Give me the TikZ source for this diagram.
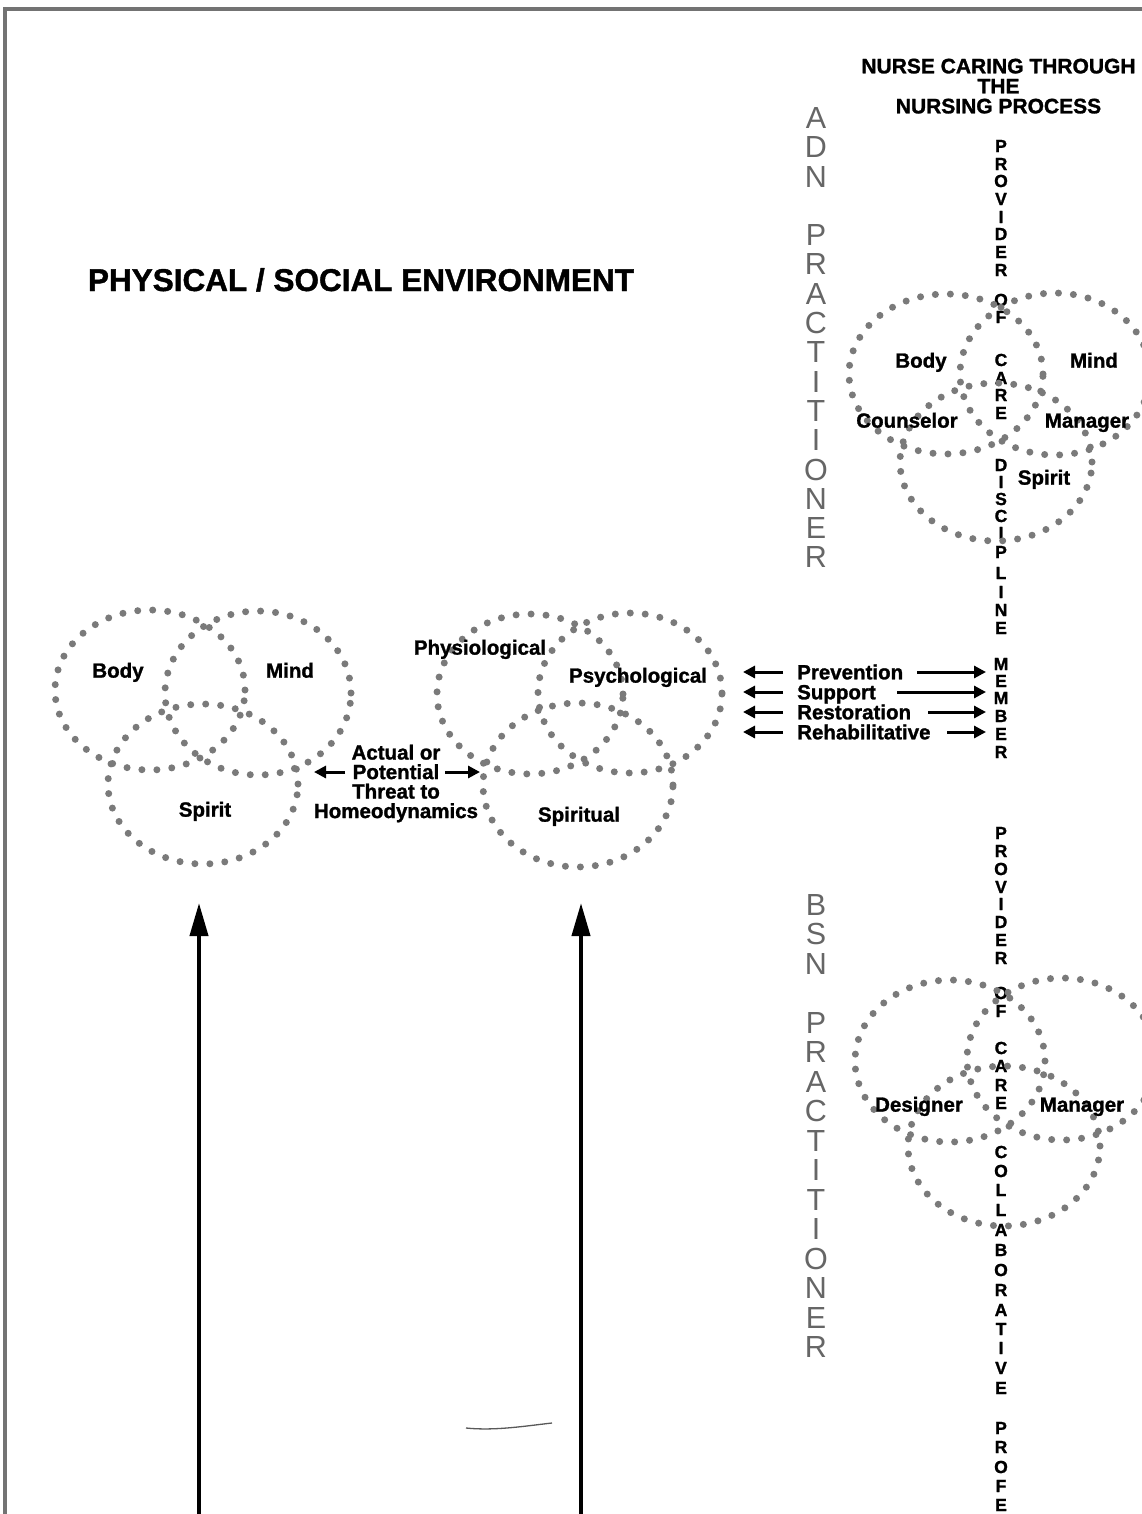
\documentclass[tikz,border=0pt]{standalone}
\usepackage{fontspec}
\setmainfont{Liberation Sans}[BoldFeatures={FakeBold=1.3}]
\usetikzlibrary{arrows.meta}
\begin{document}
\begin{tikzpicture}[x=1pt,y=-1pt,
  dotring/.style={draw=black!52, line width=7pt, line cap=round, dash pattern=on 0pt off 15pt},
  lbl/.style={font=\bfseries\fontsize{20.5}{20}\selectfont, inner sep=0pt, anchor=mid, yshift=-2pt},
  rowlbl/.style={font=\bfseries\fontsize{20.5}{20}\selectfont, inner sep=0pt, anchor=base west},
  bigletter/.style={font=\fontsize{30.5}{30}\selectfont, text=black!60, inner sep=0pt, anchor=center},
  colletter/.style={font=\bfseries\fontsize{17.5}{17}\selectfont, inner sep=0pt, anchor=center},
  smallarrow/.style={line width=3pt, -{Triangle[length=12pt,width=12pt]}},
  bigarrow/.style={line width=4pt, -{Triangle[length=33pt,width=18pt]}}
]
\useasboundingbox (0,0) rectangle (1142,1514);
\fill[white] (0,0) rectangle (1142,1514);
% border
\draw[black!55, line width=4pt] (5,1540) -- (5,9) -- (1160,9);

% title
\node[font=\bfseries\fontsize{31.5}{32}\selectfont, inner sep=0pt, anchor=base] (env) at (361,291) {PHYSICAL / SOCIAL ENVIRONMENT};

% header
\node[font=\bfseries\fontsize{21}{20}\selectfont, inner sep=0pt, anchor=north, align=center] (header) at (998.5,58.5) {NURSE CARING THROUGH\\THE\\NURSING PROCESS};

% ADN / BSN practitioner letters
\foreach \ltr/\k in {A/0,D/1,N/2,P/4,R/5,A/6,C/7,T/8,I/9,T/10,I/11,O/12,N/13,E/14,R/15}
  \node[bigletter] (adn\k) at (816,{118+29.3*\k}) {\ltr};
\foreach \ltr/\k in {B/0,S/1,N/2,P/4,R/5,A/6,C/7,T/8,I/9,T/10,I/11,O/12,N/13,E/14,R/15}
  \node[bigletter] (bsn\k) at (816,{905+29.47*\k}) {\ltr};

% vertical column texts
\foreach \ltr/\yy [count=\n] in {P/146,R/164,O/181,V/199,I/217,D/234,E/252,R/270,O/300,F/317,C/360,A/378,R/395,E/413,D/465,I/482,S/499,C/516,I/533,P/552,L/573,I/592,N/610,E/628,M/664,E/681,M/698,B/716,E/734,R/752}
  \node[colletter] (adncol\n) at (1001,\yy) {\ltr};
\foreach \ltr/\yy [count=\n] in {P/833,R/851,O/869,V/887,I/904,D/922,E/940,R/958,O/993,F/1011,C/1048,A/1066,R/1085,E/1103,C/1152,O/1171,L/1190,L/1210,A/1230,B/1250,O/1270,R/1290,A/1310,T/1329,I/1348,V/1368,E/1388,P/1428,R/1447,O/1467,F/1486,E/1505}
  \node[colletter] (bsncol\n) at (1001,\yy) {\ltr};

% left trio
\draw[dotring] (150,690) ellipse [x radius=95pt, y radius=80pt];
\draw[dotring] (258,693) ellipse [x radius=93pt, y radius=82pt];
\draw[dotring] (203,784) ellipse [x radius=95pt, y radius=80pt];
\node[lbl] (lbody) at (118,673) {Body};
\node[lbl] (lmind) at (290,673) {Mind};
\node[lbl] (lspirit) at (205,812) {Spirit};

% middle trio
\draw[dotring] (530,694) ellipse [x radius=93pt, y radius=80pt];
\draw[dotring] (630,693) ellipse [x radius=92pt, y radius=80pt];
\draw[dotring] (578,785) ellipse [x radius=95pt, y radius=82pt];
\node[lbl] (phys) at (480,650) {Physiological};
\node[lbl] (psych) at (638,678) {Psychological};
\node[lbl] (spiritual) at (579,817) {Spiritual};

% threat block
\node[font=\bfseries\fontsize{20.5}{19.5}\selectfont, inner sep=0pt, anchor=north, align=center] (threat) at (396,744.5) {Actual or\\Potential\\Threat to\\Homeodynamics};
\coordinate (thL) at (314,772);
\coordinate (thLs) at (345,772);
\coordinate (thR) at (480,772);
\coordinate (thRs) at (445,772);
\draw[smallarrow] (thLs) -- (thL);
\draw[smallarrow] (thRs) -- (thR);

% top right trio (ADN)
\draw[dotring] (946,374) ellipse [x radius=97pt, y radius=80pt];
\draw[dotring] (1055,374) ellipse [x radius=95pt, y radius=81pt];
\draw[dotring] (996,462) ellipse [x radius=96pt, y radius=79pt];
\node[lbl] (abody) at (921,363) {Body};
\node[lbl] (amind) at (1094,363) {Mind};
\node[lbl] (acoun) at (907,423) {Counselor};
\node[lbl] (aman) at (1087,423) {Manager};
\node[lbl] (aspirit) at (1044,480) {Spirit};

% BSN trio
\draw[dotring] (950,1061) ellipse [x radius=95pt, y radius=81pt];
\draw[dotring] (1062,1059) ellipse [x radius=95pt, y radius=81pt];
\draw[dotring] (1004,1146) ellipse [x radius=96pt, y radius=80pt];
\node[lbl] (bdes) at (919,1107) {Designer};
\node[lbl] (bman) at (1082,1107) {Manager};

% prevention rows
\foreach \name/\txt/\yy/\tail in {prev/Prevention/672/917, supp/Support/692/897, rest/Restoration/712/928, reha/Rehabilitative/732/947}{
  \node[rowlbl] (\name) at (797,\yy+7.3) {\txt};
  \coordinate (\name Ls) at (783,\yy);
  \coordinate (\name L) at (743,\yy);
  \coordinate (\name Rs) at (\tail,\yy);
  \coordinate (\name R) at (986,\yy);
  \draw[smallarrow] (\name Ls) -- (\name L);
  \draw[smallarrow] (\name Rs) -- (\name R);
}

% big arrows
\coordinate (footA) at (199,1530);
\coordinate (tipA) at (199,903);
\coordinate (footB) at (581,1530);
\coordinate (tipB) at (581,903);
\draw[bigarrow] (footA) -- (tipA);
\draw[bigarrow] (footB) -- (tipB);

% small stray stroke
\draw[black!65, line width=1.3pt] (466,1428) .. controls (495,1431) and (525,1426) .. (552,1423);
\end{tikzpicture}
\end{document}
